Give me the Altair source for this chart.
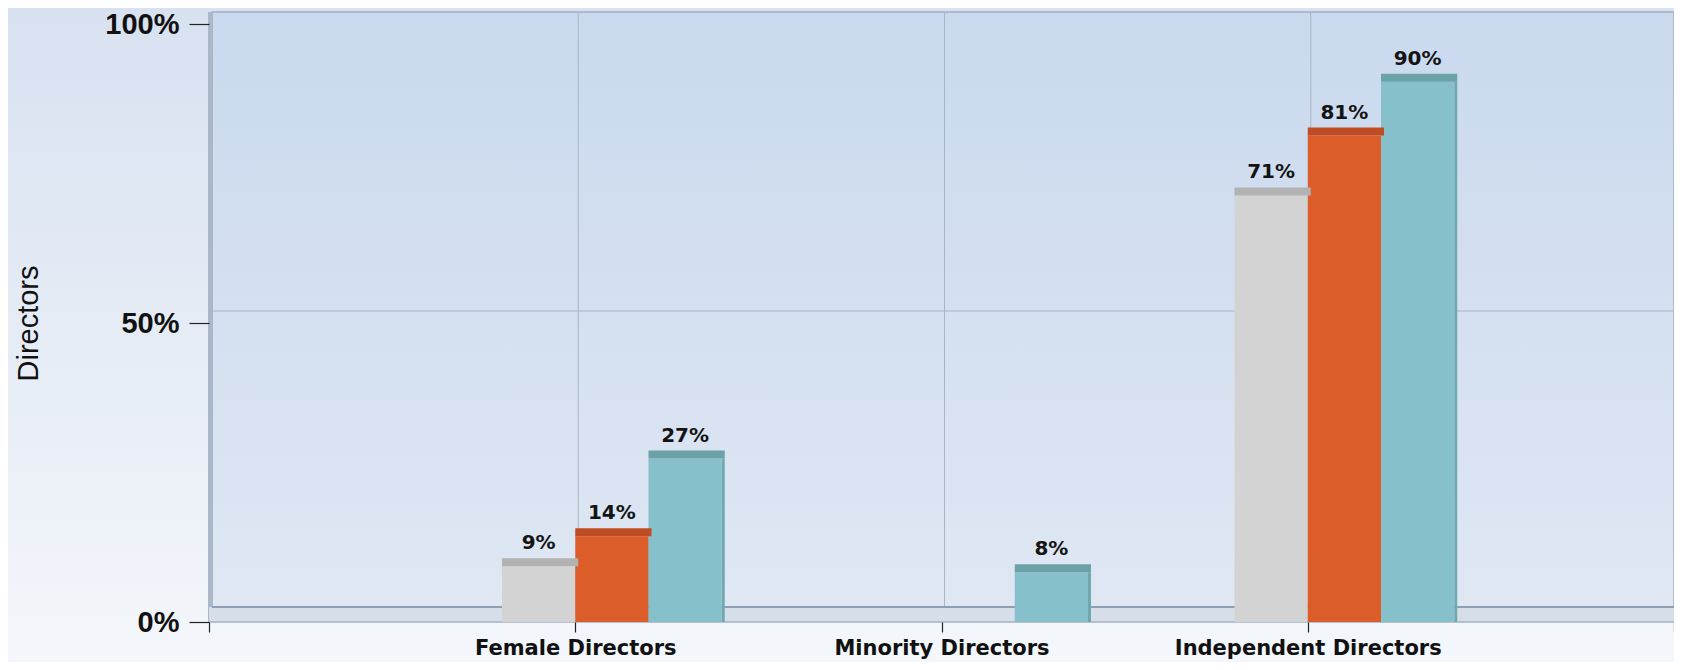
import altair as alt
import pandas as pd

# ---- data ----
categories = ["Female Directors", "Minority Directors", "Independent Directors"]
series = ["Series 1", "Series 2", "Series 3"]
series1_values = [9, None, 71]
series2_values = [14, None, 81]
series3_values = [27, 8, 90]
y_ticks = [0, 50, 100]

# ---- styling ----
face_colors = ["#d3d3d3", "#dc5d29", "#86c0ca"]
cap_colors = ["#b2b2b2", "#bf4c22", "#6aa2a8"]
side_colors = ["#bdbdbd", "#c45126", "#70a8b0"]
BAR_W = 0.2
DX, DY = 3, -12  # 3D depth offset of back wall (px)

all_vals = [series1_values, series2_values, series3_values]
rows = []
for ci, cat in enumerate(categories):
    pos = ci + 1
    for si, s in enumerate(series):
        v = all_vals[si][ci]
        if v is None:
            continue
        x0 = pos + (si - 1) * BAR_W
        rows.append({"category": cat, "series": s, "value": v,
                     "x0": x0, "x1": x0 + BAR_W, "xc": x0 + BAR_W / 2,
                     "label": f"{v}%"})
df = pd.DataFrame(rows)

n_slots = len(categories) + 1
X_DOM = [0, n_slots]

xs = alt.Scale(domain=X_DOM, nice=False, zero=False)
ys = alt.Scale(domain=[0, 100], nice=False)

label_expr = " : ".join(
    [f"datum.value == {i + 1} ? '{c}'" for i, c in enumerate(categories)]
) + " : ''"

x_axis = alt.Axis(values=list(range(0, n_slots + 1)), labelExpr=label_expr,
                  title=None, domain=False, grid=False, tickSize=10,
                  tickColor="#222222", tickWidth=1.2,
                  labelFont="DejaVu Sans", labelFontWeight="bold",
                  labelFontSize=21, labelColor="#111111", labelPadding=5,
                  labelLimit=0, labelOverlap=False, labelFlush=False, zindex=2)
y_axis = alt.Axis(values=y_ticks, labelExpr="datum.value + '%'",
                  title="Directors", domain=False, grid=False, tickSize=20,
                  tickColor="#222222", tickWidth=1.2,
                  labelFont="Liberation Sans", labelFontWeight="bold",
                  labelFontSize=29, labelColor="#111111", labelPadding=10,
                  titleFont="Liberation Sans", titleFontWeight="normal",
                  titleFontSize=29, titleColor="#111111", titleAngle=270,
                  titleAlign="center", titleBaseline="alphabetic",
                  titleX=-172, titleY=299, zindex=2)


def X(field):
    return alt.X(field, scale=xs, axis=x_axis)


def Y(field):
    return alt.Y(field, scale=ys, axis=y_axis)


# page background (decoration)
bg_df = pd.DataFrame([{"x": -0.6, "x2": n_slots + 0.1, "y": -8, "y2": 104}])
page_bg = alt.Chart(bg_df).mark_rect(
    fill=alt.Gradient(gradient="linear", x1=0, x2=0, y1=0, y2=1,
                      stops=[alt.GradientStop(color="#d7e1f0", offset=0),
                             alt.GradientStop(color="#f4f7fb", offset=1)])
).encode(x=X("x:Q"), x2="x2:Q", y=Y("y:Q"), y2="y2:Q")

wall_df = pd.DataFrame([{"x": 0, "x2": n_slots, "y": 0, "y2": 100}])
wall = alt.Chart(wall_df).mark_rect(
    xOffset=DX, yOffset=DY - 3, y2Offset=DY,
    fill=alt.Gradient(gradient="linear", x1=0, x2=0, y1=0, y2=1,
                      stops=[alt.GradientStop(color="#cad9ee", offset=0),
                             alt.GradientStop(color="#dfe7f3", offset=1)]),
    stroke="#a0aec2", strokeWidth=1.5
).encode(x=X("x:Q"), x2="x2:Q", y=Y("y:Q"), y2="y2:Q")

side = alt.Chart(wall_df).mark_rect(
    xOffset=-1, x2Offset=DX + 1, yOffset=0, y2Offset=DY,
    fill="#aab7c9"
).encode(x=X("x:Q"), x2=alt.X2("x:Q"), y=Y("y:Q"), y2=alt.Y2("y2:Q"))

floor = alt.Chart(wall_df).mark_rect(
    y2Offset=DY - 3, fill="#d6dee9"
).encode(x=X("x:Q"), x2="x2:Q", y=Y("y:Q"), y2=alt.Y2("y:Q"))

floor_back = alt.Chart(wall_df).mark_rule(
    xOffset=DX, yOffset=DY - 3, color="#8e9fb4", strokeWidth=2
).encode(x=X("x:Q"), x2="x2:Q", y=Y("y:Q"))

floor_front = alt.Chart(wall_df).mark_rule(
    color="#a4b1c3", strokeWidth=1.5
).encode(x=X("x:Q"), x2="x2:Q", y=Y("y:Q"))

hgrid_df = pd.DataFrame({"y": [y_ticks[1]], "x": [0], "x2": [n_slots]})
hgrid = alt.Chart(hgrid_df).mark_rule(
    xOffset=DX, yOffset=DY, color="#a8b5c6", strokeWidth=1
).encode(x=X("x:Q"), x2="x2:Q", y=Y("y:Q"))

vgrid_df = pd.DataFrame({"x": list(range(1, n_slots)), "y": 0, "y2": 100})
vgrid = alt.Chart(vgrid_df).mark_rule(
    xOffset=DX, yOffset=DY - 3, y2Offset=DY, color="#a9b5c5", strokeWidth=1
).encode(x=X("x:Q"), y=Y("y:Q"), y2="y2:Q")

sides = alt.Chart(df).mark_rect(
    x2Offset=3, yOffset=-2
).encode(
    x=X("x1:Q"), x2=alt.X2("x1:Q"),
    y=Y("value:Q"), y2=alt.datum(0),
    color=alt.Color("series:N", scale=alt.Scale(domain=series, range=side_colors), legend=None),
)

faces = alt.Chart(df).mark_rect(yOffset=-2).encode(
    x=X("x0:Q"), x2="x1:Q",
    y=Y("value:Q"), y2=alt.datum(0),
    color=alt.Color("series:N", scale=alt.Scale(domain=series, range=face_colors), legend=None),
)

caps = alt.Chart(df).mark_rect(yOffset=-2, y2Offset=-10, x2Offset=3).encode(
    x=X("x0:Q"), x2="x1:Q",
    y=Y("value:Q"), y2=alt.Y2("value:Q"),
    color=alt.Color("series:N", scale=alt.Scale(domain=series, range=cap_colors), legend=None),
)

labels = alt.Chart(df).mark_text(
    font="DejaVu Sans", fontWeight="bold", fontSize=20, color="#141414",
    baseline="alphabetic", align="center", dy=-19
).encode(
    x=X("xc:Q"), y=Y("value:Q"), text="label:N",
)

chart = alt.layer(
    page_bg, wall, vgrid, hgrid, side, floor, floor_back, floor_front,
    sides, faces, caps, labels
).resolve_scale(color="independent").properties(
    width=1465, height=598,
    autosize=alt.AutoSizeParams(type="none"),
    padding={"left": 201, "top": 16, "right": 0, "bottom": 40},
    background="#f3f6fb",
).configure_view(stroke=None)

chart.save("out.html", embed_options={"renderer": "svg", "actions": False})
